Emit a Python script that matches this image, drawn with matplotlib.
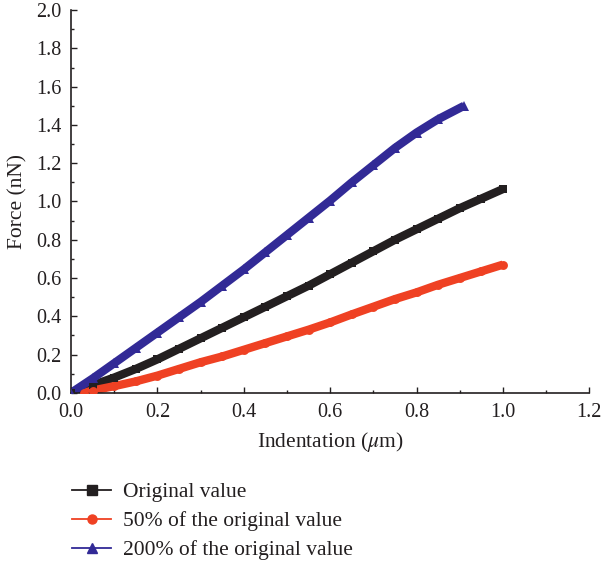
"""Force vs indentation for three parameter settings (original, 50 %, 200 %)."""
import matplotlib
matplotlib.use("Agg")
import matplotlib.pyplot as plt
from matplotlib.ticker import MultipleLocator

plt.rcParams["font.family"] = ["Liberation Serif", "DejaVu Serif"]
plt.rcParams["mathtext.fontset"] = "stix"

# --- data ---
x_orig = [0.0, 0.05, 0.1, 0.15, 0.2, 0.25, 0.3, 0.35, 0.4, 0.45, 0.5,
          0.55, 0.6, 0.65, 0.7, 0.75, 0.8, 0.85, 0.9, 0.95, 1.0]
f_orig = [0.0, 0.04, 0.08, 0.125, 0.175, 0.23, 0.285, 0.34, 0.395, 0.45, 0.505,
          0.56, 0.62, 0.68, 0.74, 0.80, 0.855, 0.91, 0.965, 1.015, 1.065]

x_half = [0.03, 0.05, 0.1, 0.15, 0.2, 0.25, 0.3, 0.35, 0.4, 0.45, 0.5,
          0.55, 0.6, 0.65, 0.7, 0.75, 0.8, 0.85, 0.9, 0.95, 1.0]
f_half = [0.0, 0.012, 0.035, 0.06, 0.09, 0.125, 0.16, 0.19, 0.225, 0.26, 0.295,
          0.33, 0.368, 0.41, 0.45, 0.49, 0.525, 0.565, 0.60, 0.635, 0.67]

x_double = [0.0, 0.05, 0.1, 0.15, 0.2, 0.25, 0.3, 0.35, 0.4, 0.45, 0.5,
            0.55, 0.6, 0.65, 0.7, 0.75, 0.8, 0.85, 0.91]
f_double = [0.0, 0.075, 0.155, 0.235, 0.315, 0.395, 0.475, 0.56, 0.645, 0.735, 0.825,
            0.915, 1.005, 1.10, 1.19, 1.28, 1.36, 1.43, 1.50]

labels = ["Original value", "50% of the original value", "200% of the original value"]

C_BLACK = "#231f20"
C_RED = "#ef4123"
C_BLUE = "#322a96"
C_TEXT = "#231f20"

fig = plt.figure(figsize=(6.02, 5.62), dpi=100)
ax = fig.add_axes([0.118, 0.301, 0.861, 0.681])

series = [
    (x_orig, f_orig, C_BLACK, "s", 6.2, 6.0),
    (x_half, f_half, C_RED, "o", 6.4, 6.0),
    (x_double, f_double, C_BLUE, "^", 7.4, 6.0),
]
handles = []
for (xs, ys, col, mk, ms, lw), lab in zip(series, labels):
    # thick band underneath, markers on top (dense marker look)
    ax.plot(xs, ys, color=col, linewidth=lw, solid_capstyle="butt", zorder=2)
    ax.plot(xs, ys, color=col, linestyle="none", marker=mk, markersize=ms,
            markeredgewidth=0, zorder=3)
    h, = ax.plot([], [], color=col, linewidth=1.3, marker=mk, markersize=6.5, label=lab)
    handles.append(h)

ax.set_xlim(0, 1.2)
ax.set_ylim(0, 2.0)
ax.xaxis.set_major_locator(MultipleLocator(0.2))
ax.xaxis.set_minor_locator(MultipleLocator(0.1))
ax.yaxis.set_major_locator(MultipleLocator(0.2))
ax.yaxis.set_minor_locator(MultipleLocator(0.1))
ax.xaxis.set_major_formatter(lambda v, p: f"{v:.1f}")
ax.yaxis.set_major_formatter(lambda v, p: f"{v:.1f}")
ax.tick_params(which="major", direction="in", length=4.5, width=1.0,
               labelsize=14.5, colors=C_TEXT, pad=7)
ax.tick_params(which="minor", direction="in", length=2.5, width=1.0, colors=C_TEXT)

for side in ("top", "right"):
    ax.spines[side].set_visible(False)
for side in ("left", "bottom"):
    ax.spines[side].set_linewidth(1.2)
    ax.spines[side].set_color(C_TEXT)

ax.set_xlabel("Indentation ($\\mu$m)", fontsize=15.5, color=C_TEXT, labelpad=6)
ax.set_ylabel("Force (nN)", fontsize=15.5, color=C_TEXT, labelpad=6)

fig.legend(handles=handles, loc="upper left", bbox_to_anchor=(0.120, 0.142),
           frameon=False, fontsize=15.5, handlelength=1.8, handletextpad=0.55,
           labelspacing=0.42, borderpad=0, borderaxespad=0, numpoints=1,
           labelcolor=C_TEXT)

fig.savefig("out.png", dpi=100)
plt.close(fig)
